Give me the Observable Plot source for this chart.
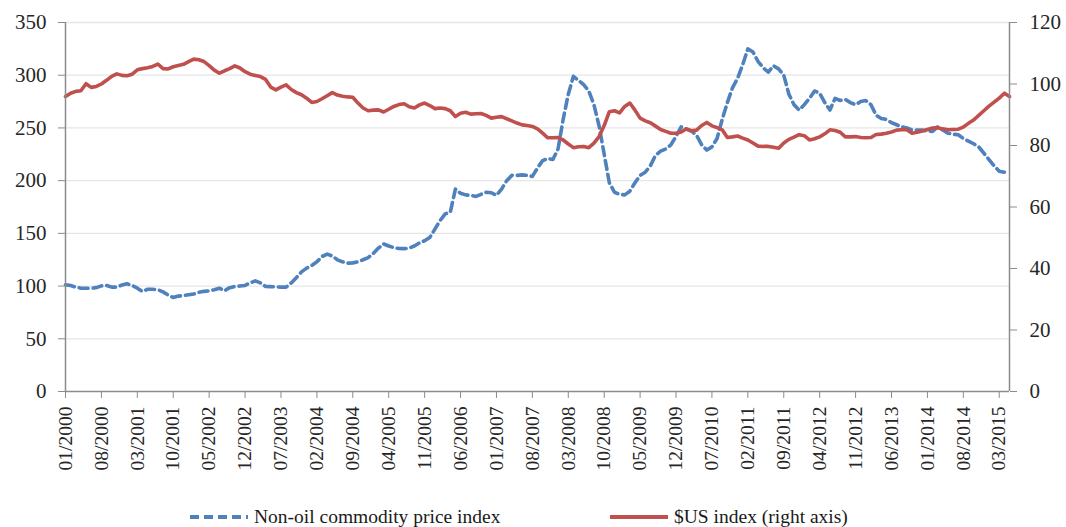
<!DOCTYPE html>
<html>
<head>
<meta charset="utf-8">
<script src="https://cdn.jsdelivr.net/npm/d3@7"></script>
<script src="https://cdn.jsdelivr.net/npm/@observablehq/plot@0.6"></script>
<style>
  html, body { margin: 0; padding: 0; background: #fff; }
  #wrap { position: relative; width: 1066px; height: 527px; overflow: hidden; }
  #legend { position: absolute; left: 0; top: 505px; width: 1066px; height: 24px;
    font-family: "Liberation Serif", "Times New Roman", serif; font-size: 19.5px; color: #1a1a1a; }
  .item { position: absolute; top: 0; display: flex; align-items: center; height: 24px; white-space: nowrap; }
  .item svg { margin-right: 6px; }
</style>
</head>
<body>
<div id="wrap">
  <div id="chart"></div>
  <div id="legend"></div>
</div>
<script>
// Series names
const seriesNames = ["Non-oil commodity price index", "$US index (right axis)"];

// Non-oil commodity price index (left axis), monthly from 01/2000
const commodity = [
  101.2, 100.5, 99.0, 98.0, 98.0, 98.0, 98.5, 100.2, 100.6, 99.0,
  99.0, 101.0, 102.2, 100.5, 98.0, 94.9, 97.0, 97.0, 96.5, 94.5,
  91.5, 89.2, 90.5, 91.0, 91.7, 92.5, 94.2, 95.0, 95.5, 96.5,
  98.0, 95.5, 98.5, 99.6, 100.0, 100.6, 103.0, 105.0, 103.0, 99.6,
  99.5, 99.2, 99.0, 99.0, 103.0, 108.0, 113.5, 117.0, 119.5, 123.0,
  128.0, 130.3, 128.5, 124.9, 123.0, 121.7, 122.0, 123.0, 125.0, 127.0,
  131.0, 136.0, 140.0, 138.0, 136.5, 135.6, 135.5, 136.0, 138.0, 141.0,
  143.0, 146.0, 154.0, 162.0, 168.5, 170.0, 192.0, 188.0, 186.5, 186.0,
  185.0, 187.0, 189.0, 188.5, 186.0, 192.0, 200.0, 205.0, 205.0, 205.5,
  205.0, 204.0, 212.0, 219.0, 221.0, 220.0, 230.0, 258.0, 282.0, 299.0,
  295.0, 291.0, 285.0, 272.0, 252.0, 225.0, 198.0, 189.0, 187.0, 186.5,
  190.0, 198.0, 205.0, 208.0, 214.0, 224.0, 228.0, 230.0, 234.0, 242.0,
  251.0, 249.0, 247.0, 243.0, 234.0, 229.0, 232.0, 240.0, 258.0, 274.0,
  288.0, 297.0, 310.0, 325.0, 322.0, 313.0, 307.0, 303.0, 309.0, 306.0,
  300.0, 282.0, 272.0, 267.0, 272.0, 278.0, 285.0, 283.0, 274.0, 267.0,
  278.0, 276.0, 277.0, 274.0, 272.0, 275.0, 276.0, 272.0, 262.0, 259.0,
  258.0, 255.0, 253.0, 251.0, 250.0, 248.0, 248.0, 248.0, 247.0, 246.7,
  251.0, 248.0, 245.0, 244.0, 243.5, 240.0, 237.5, 235.0, 232.0, 226.0,
  220.0, 214.0, 209.0, 208.0
];

// $US index (right axis), monthly from 01/2000
const usd = [
  95.9, 97.0, 97.6, 97.8, 100.1, 98.9, 99.2, 100.0, 101.2, 102.5,
  103.3, 102.8, 102.7, 103.2, 104.6, 105.0, 105.3, 105.7, 106.5, 105.0,
  104.9, 105.6, 106.0, 106.4, 107.3, 108.1, 107.9, 107.3, 106.0, 104.5,
  103.5, 104.3, 105.0, 105.9, 105.2, 104.0, 103.2, 102.8, 102.4, 101.5,
  99.0, 98.1, 99.0, 99.7, 98.2, 97.2, 96.5, 95.4, 94.0, 94.3,
  95.2, 96.2, 97.2, 96.4, 96.0, 95.8, 95.7, 93.8, 92.2, 91.3,
  91.5, 91.6, 90.9, 91.8, 92.7, 93.3, 93.6, 92.6, 92.2, 93.2,
  93.8, 93.0, 92.0, 92.2, 92.0, 91.3, 89.4, 90.5, 90.8, 90.2,
  90.3, 90.4, 89.8, 88.9, 89.2, 89.4, 88.7, 88.0, 87.3, 86.7,
  86.5, 86.2, 85.4, 84.0, 82.5, 82.5, 82.6, 81.8, 80.5, 79.3,
  79.6, 79.7, 79.3, 80.8, 82.9, 86.5, 91.0, 91.3, 90.6, 92.7,
  93.8, 91.5, 88.9, 88.0, 87.4, 86.3, 85.2, 84.6, 84.0, 84.0,
  84.4, 85.4, 84.8, 85.0, 86.5, 87.5, 86.4, 85.8, 85.1, 82.6,
  82.8, 83.1, 82.4, 81.8, 80.8, 79.8, 79.7, 79.7, 79.4, 79.1,
  80.8, 82.0, 82.7, 83.5, 83.2, 81.8, 82.2, 82.8, 83.8, 85.1,
  84.9, 84.3, 82.8, 82.8, 82.9, 82.6, 82.5, 82.6, 83.6, 83.7,
  84.0, 84.4, 85.0, 85.1, 85.1, 84.0, 84.3, 84.7, 85.2, 85.7,
  85.8, 85.4, 85.1, 85.2, 85.3, 86.0, 87.2, 88.3, 89.8, 91.3,
  92.8, 94.1, 95.4, 97.0, 95.9
];

// Axis ticks
const xTickLabels = ["01/2000","08/2000","03/2001","10/2001","05/2002","12/2002","07/2003",
  "02/2004","09/2004","04/2005","11/2005","06/2006","01/2007","08/2007","03/2008","10/2008",
  "05/2009","12/2009","07/2010","02/2011","09/2011","04/2012","11/2012","06/2013","01/2014",
  "08/2014","03/2015"];
const leftTicks = [0, 50, 100, 150, 200, 250, 300, 350];
const rightTicks = [0, 20, 40, 60, 80, 100, 120];

const colors = ["#4f81bd", "#c0504d"];

const LEFT_MAX = 350, RIGHT_MAX = 120;
const toLeft = v => v * LEFT_MAX / RIGHT_MAX;
const lastMonth = usd.length - 1;

const blueData = commodity.map((v, i) => ({m: i, v}));
const redData = usd.map((v, i) => ({m: i, v: toLeft(v)}));
const xTicks = xTickLabels.map((_, i) => i * 7);

const axisColor = "#8c8c8c";
const textColor = "#262626";
const font = "'Liberation Serif', 'Times New Roman', serif";

const chart = Plot.plot({
  width: 1066,
  height: 490,
  marginLeft: 65,
  marginRight: 57,
  marginTop: 22,
  marginBottom: 99,
  style: {fontFamily: font, fontSize: "20px", color: textColor, background: "white", overflow: "visible"},
  x: {domain: [0, lastMonth]},
  y: {domain: [0, LEFT_MAX]},
  marks: [
    Plot.gridY(leftTicks.filter(t => t > 0), {stroke: "#e6e6e6", strokeOpacity: 1, strokeWidth: 1.3}),
    Plot.lineY(blueData, {x: "m", y: "v", stroke: colors[0], strokeWidth: 3.6, strokeDasharray: "9,5"}),
    Plot.lineY(redData, {x: "m", y: "v", stroke: colors[1], strokeWidth: 3.6}),
    Plot.ruleY([0], {stroke: axisColor, strokeWidth: 1.5}),
    Plot.ruleX([0, lastMonth], {stroke: axisColor, strokeWidth: 1.5}),
    Plot.axisY(leftTicks, {anchor: "left", tickSize: 7, tickPadding: 12, label: null,
      stroke: axisColor, fill: textColor, fontSize: 21, fontFamily: font}),
    Plot.axisY(rightTicks.map(toLeft), {anchor: "right", tickSize: 7, tickPadding: 13, label: null,
      tickFormat: d => String(Math.round(d * RIGHT_MAX / LEFT_MAX)),
      stroke: axisColor, fill: textColor, fontSize: 21, fontFamily: font}),
    Plot.axisX(xTicks, {anchor: "bottom", tickSize: 7, tickPadding: 8, tickRotate: -90, label: null,
      tickFormat: d => xTickLabels[Math.round(d / 7)],
      stroke: axisColor, fill: textColor, fontSize: 19.5, fontFamily: font})
  ]
});
document.getElementById("chart").appendChild(chart);

// Legend
const legend = document.getElementById("legend");
const items = [
  {name: seriesNames[0], color: colors[0], dash: "9,5", left: 190},
  {name: seriesNames[1], color: colors[1], dash: null, left: 610}
];
for (const it of items) {
  const div = document.createElement("div");
  div.className = "item";
  div.style.left = it.left + "px";
  div.innerHTML = `<svg width="58" height="10"><line x1="0" y1="5" x2="58" y2="5" stroke="${it.color}" stroke-width="4" ${it.dash ? `stroke-dasharray="${it.dash}"` : ""}/></svg><span>${it.name}</span>`;
  legend.appendChild(div);
}
</script>
</body>
</html>
